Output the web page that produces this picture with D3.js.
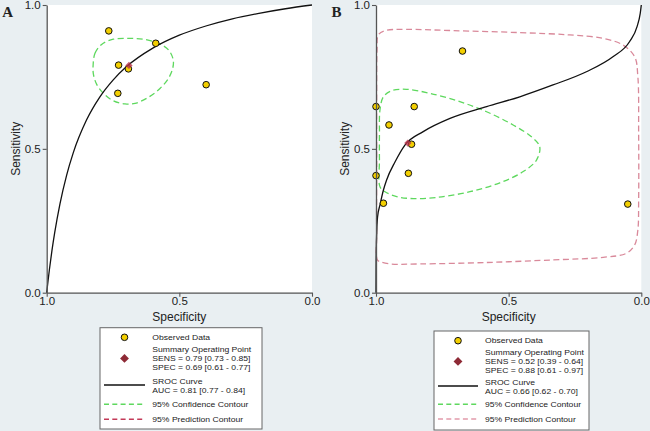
<!DOCTYPE html>
<html><head><meta charset="utf-8">
<script src="https://cdn.jsdelivr.net/npm/d3@7"></script>
<style>
html,body{margin:0;padding:0;background:#e9eff2;}
svg{display:block;}
text{font-family:"Liberation Sans",Arial,sans-serif;fill:#222;}
</style></head>
<body>
<svg id="chart" width="650" height="431"></svg>
<script>
// ---------- DATA ----------
const axisTicks = [1.0, 0.5, 0.0];
// Panel A
const aObsSpec = [0.766, 0.589, 0.729, 0.692, 0.732, 0.399];
const aObsSens = [0.910, 0.867, 0.791, 0.778, 0.693, 0.723];
const aSummary = {spec: 0.69, sens: 0.79};
const aSrocSpec = [1.0, 0.995, 0.99, 0.98, 0.97, 0.95, 0.925, 0.9, 0.85, 0.8, 0.75, 0.7, 0.6, 0.5, 0.4, 0.3, 0.2, 0.1, 0.0];
const aSrocSens = [0.0, 0.041, 0.079, 0.148, 0.208, 0.309, 0.408, 0.486, 0.600, 0.680, 0.739, 0.785, 0.850, 0.895, 0.927, 0.952, 0.971, 0.987, 1.0];
const aConfSpec = [0.825, 0.818, 0.793, 0.749, 0.692, 0.636, 0.579, 0.541, 0.523, 0.525, 0.541, 0.573, 0.617, 0.667, 0.705, 0.749, 0.786, 0.812, 0.824];
const aConfSens = [0.791, 0.832, 0.863, 0.881, 0.884, 0.881, 0.867, 0.844, 0.809, 0.780, 0.745, 0.710, 0.679, 0.658, 0.656, 0.667, 0.693, 0.725, 0.760];
const aLegend = ["Observed Data", "Summary Operating Point", "SENS = 0.79 [0.73 - 0.85]", "SPEC = 0.69 [0.61 - 0.77]", "SROC Curve", "AUC = 0.81 [0.77 - 0.84]", "95% Confidence Contour", "95% Prediction Contour"];
// Panel B
const bObsSpec = [0.674, 1.0, 0.856, 0.951, 0.866, 1.0, 0.878, 0.972, 0.051];
const bObsSens = [0.840, 0.647, 0.647, 0.583, 0.516, 0.407, 0.415, 0.311, 0.308];
const bSummary = {spec: 0.88, sens: 0.52};
const bSrocSpec = [1.0, 0.9995, 0.9975, 0.994, 0.985, 0.972, 0.960, 0.928, 0.891, 0.822, 0.721, 0.583, 0.458, 0.333, 0.207, 0.107, 0.044, 0.016, 0.004, 0.0];
const bSrocSens = [0.0, 0.114, 0.206, 0.264, 0.305, 0.357, 0.392, 0.455, 0.513, 0.560, 0.606, 0.647, 0.681, 0.722, 0.768, 0.820, 0.873, 0.925, 0.971, 1.0];
const bConfSpec = [0.985, 0.987, 0.987, 0.985, 0.972, 0.941, 0.885, 0.797, 0.684, 0.583, 0.483, 0.414, 0.383, 0.395, 0.445, 0.533, 0.646, 0.772, 0.859, 0.922, 0.966];
const bConfSens = [0.368, 0.461, 0.554, 0.635, 0.681, 0.702, 0.707, 0.693, 0.664, 0.629, 0.583, 0.542, 0.508, 0.461, 0.421, 0.382, 0.351, 0.331, 0.327, 0.334, 0.351];
const bPredSpec = [0.995, 0.9975, 0.9975, 0.9975, 0.996, 0.991, 0.966, 0.885, 0.709, 0.458, 0.270, 0.144, 0.069, 0.025, 0.013, 0.010, 0.010, 0.013, 0.025, 0.056, 0.144, 0.333, 0.583, 0.834, 0.947, 0.985];
const bPredSens = [0.114, 0.206, 0.438, 0.670, 0.844, 0.896, 0.911, 0.915, 0.911, 0.904, 0.896, 0.884, 0.861, 0.820, 0.751, 0.554, 0.322, 0.218, 0.166, 0.137, 0.123, 0.114, 0.105, 0.100, 0.100, 0.108];
const bLegend = ["Observed Data", "Summary Operating Point", "SENS = 0.52 [0.39 - 0.64]", "SPEC = 0.88 [0.61 - 0.97]", "SROC Curve", "AUC = 0.66 [0.62 - 0.70]", "95% Confidence Contour", "95% Prediction Contour"];

const svg = d3.select("#chart");
const zip = (xs, ys) => xs.map((v, i) => [v, ys[i]]);

function panel(cfg) {
  const x = d3.scaleLinear().domain([1, 0]).range([cfg.left, cfg.left + 265.3]);
  const y = d3.scaleLinear().domain([0, 1]).range([292.7, 5]);
  const g = svg.append("g");
  g.append("rect").attr("x", x(1)).attr("y", y(1)).attr("width", x(0) - x(1)).attr("height", y(0) - y(1)).attr("fill", "#fff");

  const line = d3.line().x(d => x(d[0])).y(d => y(d[1])).curve(d3.curveMonotoneX);
  const closed = d3.line().x(d => x(d[0])).y(d => y(d[1])).curve(d3.curveCatmullRomClosed.alpha(0.5));

  if (cfg.pred) {
    g.append("path").attr("d", closed(zip(cfg.pred[0], cfg.pred[1]))).attr("fill", "none")
      .attr("stroke", "#d9899a").attr("stroke-width", 1.3).attr("stroke-dasharray", "6,3.5");
  }
  g.append("path").attr("d", closed(zip(cfg.conf[0], cfg.conf[1]))).attr("fill", "none")
    .attr("stroke", "#5ed85e").attr("stroke-width", 1.3).attr("stroke-dasharray", "6,3.5");
  g.append("path").attr("d", line(zip(cfg.sroc[0], cfg.sroc[1]).reverse()))
    .attr("fill", "none").attr("stroke", "#111").attr("stroke-width", 1.3);

  g.selectAll("circle.obs").data(zip(cfg.obs[0], cfg.obs[1])).enter().append("circle")
    .attr("cx", d => x(d[0])).attr("cy", d => y(d[1])).attr("r", 3.3)
    .attr("fill", "#f3cf00").attr("stroke", "#111").attr("stroke-width", 1);
  const s = cfg.summary;
  g.append("path").attr("d", d3.symbol(d3.symbolDiamond2, 34)())
    .attr("transform", `translate(${x(s.spec)},${y(s.sens)})`)
    .attr("fill", "#b8334a").attr("fill-opacity", 0.8);

  // axes
  const xa = g.append("g").attr("transform", `translate(0,${y(0)})`)
    .call(d3.axisBottom(x).tickValues(axisTicks).tickFormat(d3.format(".1f")).tickSize(4).tickSizeOuter(0));
  const ya = g.append("g").attr("transform", `translate(${x(1)},0)`)
    .call(d3.axisLeft(y).tickValues(axisTicks).tickFormat(d3.format(".1f")).tickSize(4).tickSizeOuter(0));
  [xa, ya].forEach(a => {
    a.select(".domain").attr("stroke", "#555").attr("stroke-width", 1.3);
    a.selectAll(".tick line").attr("stroke", "#555").attr("stroke-width", 1.1);
    a.selectAll("text").attr("font-size", 11.5).attr("fill", "#222").attr("font-family", "Liberation Sans, Arial, sans-serif");
  });
  xa.selectAll("text").attr("dy", "0.62em").attr("y", 5);
  ya.selectAll("text").attr("x", -6);

  g.append("text").attr("x", (x(0) + x(1)) / 2).attr("y", 321).attr("text-anchor", "middle")
    .attr("font-size", 12).text("Specificity");
  g.append("text").attr("transform", `translate(${cfg.left - 31},${(y(0) + y(1)) / 2}) rotate(-90)`)
    .attr("text-anchor", "middle").attr("dy", "0.35em").attr("font-size", 12).text("Sensitivity");
  g.append("text").attr("x", cfg.left - 44.5).attr("y", 17).attr("font-size", 15).attr("font-weight", "bold")
    .style("font-family", "Liberation Serif, Times New Roman, serif").text(cfg.label);

  // legend
  const L = cfg.leg;
  const lg = g.append("g");
  lg.append("rect").attr("x", L.x0).attr("y", L.y0).attr("width", L.x1 - L.x0).attr("height", L.y1 - L.y0)
    .attr("fill", "#fff").attr("stroke", "#666").attr("stroke-width", 1);
  const sx = (L.sx0 + L.sx1) / 2;
  lg.append("circle").attr("cx", sx).attr("cy", L.rows[0]).attr("r", 3.3)
    .attr("fill", "#f3cf00").attr("stroke", "#111").attr("stroke-width", 1);
  lg.append("path").attr("d", d3.symbol(d3.symbolDiamond2, 50)())
    .attr("transform", `translate(${sx},${L.rows[2]})`).attr("fill", "#8e2a36");
  lg.append("line").attr("x1", L.sx0).attr("x2", L.sx1).attr("y1", L.srocY).attr("y2", L.srocY)
    .attr("stroke", "#111").attr("stroke-width", 1.3);
  lg.append("line").attr("x1", L.sx0).attr("x2", L.sx1).attr("y1", L.rows[6]).attr("y2", L.rows[6])
    .attr("stroke", "#5ed85e").attr("stroke-width", 1.5).attr("stroke-dasharray", "5,3.3");
  lg.append("line").attr("x1", L.sx0).attr("x2", L.sx1).attr("y1", L.rows[7]).attr("y2", L.rows[7])
    .attr("stroke", L.predColor).attr("stroke-width", 1.5).attr("stroke-dasharray", "5,3.3");
  cfg.legText.forEach((t, i) => {
    const tx = lg.append("text").attr("x", L.tx).attr("y", L.rows[i]).attr("dy", "0.35em")
      .attr("font-size", 7.6).text(t);
    const w = tx.node().getComputedTextLength();
    tx.attr("textLength", w * 8.6 / 7.6).attr("lengthAdjust", "spacingAndGlyphs");
  });
}

panel({
  left: 46.7, label: "A",
  obs: [aObsSpec, aObsSens], summary: aSummary,
  sroc: [aSrocSpec, aSrocSens], conf: [aConfSpec, aConfSens], pred: null,
  legText: aLegend,
  leg: {x0: 100, x1: 262, y0: 327.7, y1: 429, sx0: 104, sx1: 145, tx: 152.3,
        rows: [337.3, 349.6, 358.4, 367.2, 381, 389.9, 404.3, 419.3], srocY: 385, predColor: "#c33a58"}
});
panel({
  left: 376, label: "B",
  obs: [bObsSpec, bObsSens], summary: bSummary,
  sroc: [bSrocSpec, bSrocSens], conf: [bConfSpec, bConfSens], pred: [bPredSpec, bPredSens],
  legText: bLegend,
  leg: {x0: 434, x1: 589, y0: 331, y1: 430, sx0: 438, sx1: 478, tx: 485,
        rows: [340.7, 352.6, 361.4, 370.2, 382.5, 391.4, 404.3, 419], srocY: 386, predColor: "#e29aaa"}
});
</script>
</body></html>
